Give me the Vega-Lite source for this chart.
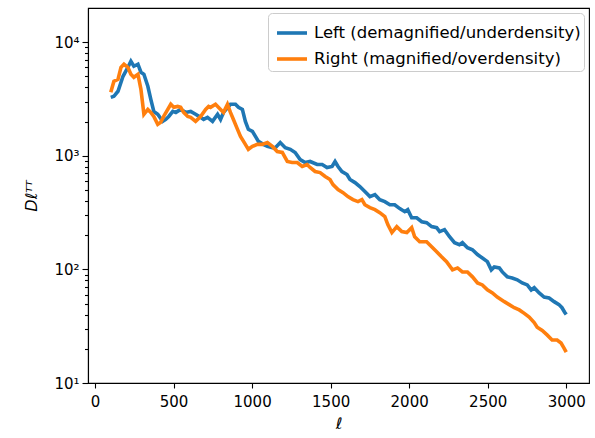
{
"$schema": "https://vega.github.io/schema/vega-lite/v6.json",
"width": 501, "height": 375,
"autosize": "none",
"padding": {"left": 88, "top": 8, "right": 6, "bottom": 55},
"background": "white",
"config": {
  "font": "DejaVu Sans",
  "view": {"stroke": "black", "strokeWidth": 1.1},
  "axis": {"domainColor": "black", "tickColor": "black", "domainWidth": 1.1, "tickWidth": 1.1, "labelColor": "black", "titleColor": "black", "labelFont": "DejaVu Sans", "titleFont": "DejaVu Sans", "grid": false, "labelFontSize": 15, "titleFontWeight": "normal"}
},
"data": {"values": [
{"l":100,"D":3270,"s":"Left (demagnified/underdensity)"},{"l":120,"D":3340,"s":"Left (demagnified/underdensity)"},{"l":146,"D":3700,"s":"Left (demagnified/underdensity)"},{"l":178,"D":5010,"s":"Left (demagnified/underdensity)"},{"l":203,"D":5780,"s":"Left (demagnified/underdensity)"},{"l":228,"D":6790,"s":"Left (demagnified/underdensity)"},{"l":247,"D":6140,"s":"Left (demagnified/underdensity)"},{"l":273,"D":6400,"s":"Left (demagnified/underdensity)"},{"l":292,"D":5440,"s":"Left (demagnified/underdensity)"},{"l":311,"D":5220,"s":"Left (demagnified/underdensity)"},{"l":336,"D":4090,"s":"Left (demagnified/underdensity)"},{"l":355,"D":3140,"s":"Left (demagnified/underdensity)"},{"l":374,"D":2460,"s":"Left (demagnified/underdensity)"},{"l":399,"D":2320,"s":"Left (demagnified/underdensity)"},{"l":431,"D":2010,"s":"Left (demagnified/underdensity)"},{"l":450,"D":2090,"s":"Left (demagnified/underdensity)"},{"l":469,"D":2220,"s":"Left (demagnified/underdensity)"},{"l":495,"D":2460,"s":"Left (demagnified/underdensity)"},{"l":514,"D":2410,"s":"Left (demagnified/underdensity)"},{"l":545,"D":2560,"s":"Left (demagnified/underdensity)"},{"l":577,"D":2410,"s":"Left (demagnified/underdensity)"},{"l":609,"D":2460,"s":"Left (demagnified/underdensity)"},{"l":640,"D":2320,"s":"Left (demagnified/underdensity)"},{"l":672,"D":2180,"s":"Left (demagnified/underdensity)"},{"l":691,"D":2090,"s":"Left (demagnified/underdensity)"},{"l":716,"D":2180,"s":"Left (demagnified/underdensity)"},{"l":748,"D":2010,"s":"Left (demagnified/underdensity)"},{"l":780,"D":2320,"s":"Left (demagnified/underdensity)"},{"l":799,"D":2090,"s":"Left (demagnified/underdensity)"},{"l":818,"D":2410,"s":"Left (demagnified/underdensity)"},{"l":862,"D":2840,"s":"Left (demagnified/underdensity)"},{"l":894,"D":2840,"s":"Left (demagnified/underdensity)"},{"l":913,"D":2670,"s":"Left (demagnified/underdensity)"},{"l":938,"D":2560,"s":"Left (demagnified/underdensity)"},{"l":957,"D":2010,"s":"Left (demagnified/underdensity)"},{"l":976,"D":1710,"s":"Left (demagnified/underdensity)"},{"l":1002,"D":1640,"s":"Left (demagnified/underdensity)"},{"l":1021,"D":1480,"s":"Left (demagnified/underdensity)"},{"l":1040,"D":1340,"s":"Left (demagnified/underdensity)"},{"l":1071,"D":1260,"s":"Left (demagnified/underdensity)"},{"l":1097,"D":1210,"s":"Left (demagnified/underdensity)"},{"l":1129,"D":1180,"s":"Left (demagnified/underdensity)"},{"l":1148,"D":1180,"s":"Left (demagnified/underdensity)"},{"l":1179,"D":1310,"s":"Left (demagnified/underdensity)"},{"l":1211,"D":1180,"s":"Left (demagnified/underdensity)"},{"l":1243,"D":1140,"s":"Left (demagnified/underdensity)"},{"l":1274,"D":1070,"s":"Left (demagnified/underdensity)"},{"l":1306,"D":927,"s":"Left (demagnified/underdensity)"},{"l":1338,"D":873,"s":"Left (demagnified/underdensity)"},{"l":1369,"D":891,"s":"Left (demagnified/underdensity)"},{"l":1414,"D":838,"s":"Left (demagnified/underdensity)"},{"l":1446,"D":838,"s":"Left (demagnified/underdensity)"},{"l":1477,"D":789,"s":"Left (demagnified/underdensity)"},{"l":1509,"D":805,"s":"Left (demagnified/underdensity)"},{"l":1528,"D":891,"s":"Left (demagnified/underdensity)"},{"l":1547,"D":805,"s":"Left (demagnified/underdensity)"},{"l":1572,"D":727,"s":"Left (demagnified/underdensity)"},{"l":1604,"D":684,"s":"Left (demagnified/underdensity)"},{"l":1623,"D":618,"s":"Left (demagnified/underdensity)"},{"l":1655,"D":581,"s":"Left (demagnified/underdensity)"},{"l":1686,"D":536,"s":"Left (demagnified/underdensity)"},{"l":1718,"D":484,"s":"Left (demagnified/underdensity)"},{"l":1750,"D":437,"s":"Left (demagnified/underdensity)"},{"l":1782,"D":455,"s":"Left (demagnified/underdensity)"},{"l":1813,"D":411,"s":"Left (demagnified/underdensity)"},{"l":1845,"D":395,"s":"Left (demagnified/underdensity)"},{"l":1877,"D":371,"s":"Left (demagnified/underdensity)"},{"l":1908,"D":371,"s":"Left (demagnified/underdensity)"},{"l":1940,"D":343,"s":"Left (demagnified/underdensity)"},{"l":1972,"D":322,"s":"Left (demagnified/underdensity)"},{"l":1991,"D":336,"s":"Left (demagnified/underdensity)"},{"l":2016,"D":285,"s":"Left (demagnified/underdensity)"},{"l":2048,"D":285,"s":"Left (demagnified/underdensity)"},{"l":2080,"D":263,"s":"Left (demagnified/underdensity)"},{"l":2111,"D":258,"s":"Left (demagnified/underdensity)"},{"l":2143,"D":238,"s":"Left (demagnified/underdensity)"},{"l":2175,"D":233,"s":"Left (demagnified/underdensity)"},{"l":2194,"D":215,"s":"Left (demagnified/underdensity)"},{"l":2225,"D":224,"s":"Left (demagnified/underdensity)"},{"l":2257,"D":194,"s":"Left (demagnified/underdensity)"},{"l":2289,"D":172,"s":"Left (demagnified/underdensity)"},{"l":2320,"D":165,"s":"Left (demagnified/underdensity)"},{"l":2339,"D":172,"s":"Left (demagnified/underdensity)"},{"l":2371,"D":155,"s":"Left (demagnified/underdensity)"},{"l":2403,"D":149,"s":"Left (demagnified/underdensity)"},{"l":2435,"D":135,"s":"Left (demagnified/underdensity)"},{"l":2466,"D":126,"s":"Left (demagnified/underdensity)"},{"l":2498,"D":117,"s":"Left (demagnified/underdensity)"},{"l":2523,"D":99,"s":"Left (demagnified/underdensity)"},{"l":2542,"D":105,"s":"Left (demagnified/underdensity)"},{"l":2574,"D":103,"s":"Left (demagnified/underdensity)"},{"l":2593,"D":95,"s":"Left (demagnified/underdensity)"},{"l":2625,"D":86,"s":"Left (demagnified/underdensity)"},{"l":2656,"D":84,"s":"Left (demagnified/underdensity)"},{"l":2688,"D":81,"s":"Left (demagnified/underdensity)"},{"l":2720,"D":76,"s":"Left (demagnified/underdensity)"},{"l":2752,"D":73,"s":"Left (demagnified/underdensity)"},{"l":2777,"D":66,"s":"Left (demagnified/underdensity)"},{"l":2796,"D":69,"s":"Left (demagnified/underdensity)"},{"l":2828,"D":62,"s":"Left (demagnified/underdensity)"},{"l":2859,"D":57,"s":"Left (demagnified/underdensity)"},{"l":2891,"D":56,"s":"Left (demagnified/underdensity)"},{"l":2923,"D":52,"s":"Left (demagnified/underdensity)"},{"l":2954,"D":49,"s":"Left (demagnified/underdensity)"},{"l":2973,"D":46,"s":"Left (demagnified/underdensity)"},{"l":2990,"D":42,"s":"Left (demagnified/underdensity)"},{"l":3000,"D":40,"s":"Left (demagnified/underdensity)"},
{"l":100,"D":3620,"s":"Right (magnified/overdensity)"},{"l":120,"D":4530,"s":"Right (magnified/overdensity)"},{"l":146,"D":4710,"s":"Right (magnified/overdensity)"},{"l":165,"D":6010,"s":"Right (magnified/overdensity)"},{"l":184,"D":6400,"s":"Right (magnified/overdensity)"},{"l":209,"D":6010,"s":"Right (magnified/overdensity)"},{"l":228,"D":5220,"s":"Right (magnified/overdensity)"},{"l":247,"D":4910,"s":"Right (magnified/overdensity)"},{"l":273,"D":5220,"s":"Right (magnified/overdensity)"},{"l":292,"D":3850,"s":"Right (magnified/overdensity)"},{"l":311,"D":2320,"s":"Right (magnified/overdensity)"},{"l":336,"D":2560,"s":"Right (magnified/overdensity)"},{"l":355,"D":2410,"s":"Right (magnified/overdensity)"},{"l":374,"D":2220,"s":"Right (magnified/overdensity)"},{"l":399,"D":1890,"s":"Right (magnified/overdensity)"},{"l":418,"D":1970,"s":"Right (magnified/overdensity)"},{"l":437,"D":2220,"s":"Right (magnified/overdensity)"},{"l":463,"D":2560,"s":"Right (magnified/overdensity)"},{"l":482,"D":2840,"s":"Right (magnified/overdensity)"},{"l":501,"D":2670,"s":"Right (magnified/overdensity)"},{"l":526,"D":2720,"s":"Right (magnified/overdensity)"},{"l":545,"D":2670,"s":"Right (magnified/overdensity)"},{"l":564,"D":2410,"s":"Right (magnified/overdensity)"},{"l":590,"D":2220,"s":"Right (magnified/overdensity)"},{"l":609,"D":2180,"s":"Right (magnified/overdensity)"},{"l":640,"D":2010,"s":"Right (magnified/overdensity)"},{"l":672,"D":2220,"s":"Right (magnified/overdensity)"},{"l":704,"D":2560,"s":"Right (magnified/overdensity)"},{"l":723,"D":2720,"s":"Right (magnified/overdensity)"},{"l":735,"D":2670,"s":"Right (magnified/overdensity)"},{"l":767,"D":2840,"s":"Right (magnified/overdensity)"},{"l":799,"D":2560,"s":"Right (magnified/overdensity)"},{"l":818,"D":2410,"s":"Right (magnified/overdensity)"},{"l":843,"D":2840,"s":"Right (magnified/overdensity)"},{"l":862,"D":2410,"s":"Right (magnified/overdensity)"},{"l":881,"D":2090,"s":"Right (magnified/overdensity)"},{"l":907,"D":1710,"s":"Right (magnified/overdensity)"},{"l":926,"D":1480,"s":"Right (magnified/overdensity)"},{"l":957,"D":1260,"s":"Right (magnified/overdensity)"},{"l":976,"D":1140,"s":"Right (magnified/overdensity)"},{"l":1002,"D":1210,"s":"Right (magnified/overdensity)"},{"l":1033,"D":1260,"s":"Right (magnified/overdensity)"},{"l":1065,"D":1260,"s":"Right (magnified/overdensity)"},{"l":1097,"D":1310,"s":"Right (magnified/overdensity)"},{"l":1129,"D":1210,"s":"Right (magnified/overdensity)"},{"l":1160,"D":1090,"s":"Right (magnified/overdensity)"},{"l":1192,"D":1070,"s":"Right (magnified/overdensity)"},{"l":1224,"D":891,"s":"Right (magnified/overdensity)"},{"l":1255,"D":873,"s":"Right (magnified/overdensity)"},{"l":1287,"D":873,"s":"Right (magnified/overdensity)"},{"l":1319,"D":805,"s":"Right (magnified/overdensity)"},{"l":1350,"D":838,"s":"Right (magnified/overdensity)"},{"l":1369,"D":789,"s":"Right (magnified/overdensity)"},{"l":1401,"D":727,"s":"Right (magnified/overdensity)"},{"l":1433,"D":712,"s":"Right (magnified/overdensity)"},{"l":1465,"D":657,"s":"Right (magnified/overdensity)"},{"l":1496,"D":618,"s":"Right (magnified/overdensity)"},{"l":1515,"D":558,"s":"Right (magnified/overdensity)"},{"l":1547,"D":504,"s":"Right (magnified/overdensity)"},{"l":1579,"D":474,"s":"Right (magnified/overdensity)"},{"l":1610,"D":437,"s":"Right (magnified/overdensity)"},{"l":1642,"D":411,"s":"Right (magnified/overdensity)"},{"l":1674,"D":395,"s":"Right (magnified/overdensity)"},{"l":1699,"D":411,"s":"Right (magnified/overdensity)"},{"l":1718,"D":371,"s":"Right (magnified/overdensity)"},{"l":1750,"D":350,"s":"Right (magnified/overdensity)"},{"l":1782,"D":336,"s":"Right (magnified/overdensity)"},{"l":1813,"D":316,"s":"Right (magnified/overdensity)"},{"l":1845,"D":291,"s":"Right (magnified/overdensity)"},{"l":1864,"D":248,"s":"Right (magnified/overdensity)"},{"l":1890,"D":211,"s":"Right (magnified/overdensity)"},{"l":1921,"D":238,"s":"Right (magnified/overdensity)"},{"l":1953,"D":215,"s":"Right (magnified/overdensity)"},{"l":1985,"D":211,"s":"Right (magnified/overdensity)"},{"l":2016,"D":233,"s":"Right (magnified/overdensity)"},{"l":2035,"D":194,"s":"Right (magnified/overdensity)"},{"l":2067,"D":175,"s":"Right (magnified/overdensity)"},{"l":2111,"D":175,"s":"Right (magnified/overdensity)"},{"l":2143,"D":158,"s":"Right (magnified/overdensity)"},{"l":2175,"D":143,"s":"Right (magnified/overdensity)"},{"l":2206,"D":129,"s":"Right (magnified/overdensity)"},{"l":2238,"D":117,"s":"Right (magnified/overdensity)"},{"l":2276,"D":99,"s":"Right (magnified/overdensity)"},{"l":2308,"D":103,"s":"Right (magnified/overdensity)"},{"l":2339,"D":95,"s":"Right (magnified/overdensity)"},{"l":2371,"D":95,"s":"Right (magnified/overdensity)"},{"l":2403,"D":86,"s":"Right (magnified/overdensity)"},{"l":2435,"D":76,"s":"Right (magnified/overdensity)"},{"l":2466,"D":73,"s":"Right (magnified/overdensity)"},{"l":2498,"D":66,"s":"Right (magnified/overdensity)"},{"l":2530,"D":62,"s":"Right (magnified/overdensity)"},{"l":2561,"D":57,"s":"Right (magnified/overdensity)"},{"l":2606,"D":52,"s":"Right (magnified/overdensity)"},{"l":2637,"D":49,"s":"Right (magnified/overdensity)"},{"l":2669,"D":46,"s":"Right (magnified/overdensity)"},{"l":2701,"D":44,"s":"Right (magnified/overdensity)"},{"l":2733,"D":41,"s":"Right (magnified/overdensity)"},{"l":2764,"D":38,"s":"Right (magnified/overdensity)"},{"l":2796,"D":34,"s":"Right (magnified/overdensity)"},{"l":2815,"D":31,"s":"Right (magnified/overdensity)"},{"l":2847,"D":29,"s":"Right (magnified/overdensity)"},{"l":2878,"D":26.5,"s":"Right (magnified/overdensity)"},{"l":2910,"D":23.9,"s":"Right (magnified/overdensity)"},{"l":2942,"D":23.9,"s":"Right (magnified/overdensity)"},{"l":2967,"D":22.5,"s":"Right (magnified/overdensity)"},{"l":2986,"D":20.3,"s":"Right (magnified/overdensity)"},{"l":3000,"D":18.7,"s":"Right (magnified/overdensity)"}
]},
"mark": {"type": "line", "strokeWidth": 3.6, "clip": true},
"encoding": {
  "x": {"field": "l", "type": "quantitative", "scale": {"domain": [-45, 3145], "nice": false, "zero": false}, "axis": {"values": [0,500,1000,1500,2000,2500,3000], "format": "d", "title": "ℓ", "titleFontSize": 16, "titleFontStyle": "italic", "tickSize": 5, "labelPadding": 6, "titlePadding": 6}},
  "y": {"field": "D", "type": "quantitative", "scale": {"type": "log", "domain": [10, 20000], "nice": false}, "axis": {"values": [10,20,30,40,50,60,70,80,90,100,200,300,400,500,600,700,800,900,1000,2000,3000,4000,5000,6000,7000,8000,9000,10000], "labelExpr": "datum.value == 10 ? '10¹' : datum.value == 100 ? '10²' : datum.value == 1000 ? '10³' : datum.value == 10000 ? '10⁴' : ''", "tickSize": {"condition": {"test": "datum.value == 10 || datum.value == 100 || datum.value == 1000 || datum.value == 10000", "value": 6}, "value": 3.5}, "title": "Dℓᵀᵀ", "titleFontSize": 16, "titleFontStyle": "italic", "labelPadding": 3, "titlePadding": 14, "labelOverlap": false}},
  "color": {"field": "s", "type": "nominal", "scale": {"domain": ["Left (demagnified/underdensity)", "Right (magnified/overdensity)"], "range": ["#1f77b4", "#ff7f0e"]}, "legend": {"title": null, "orient": "top-right", "offset": 5, "padding": 3, "strokeColor": "#cccccc", "fillColor": "white", "cornerRadius": 4, "symbolType": "stroke", "symbolSize": 900, "symbolOffset": 4, "symbolStrokeWidth": 3.6, "labelFontSize": 16.5, "labelOffset": 5, "labelLimit": 400, "rowPadding": -1, "labelColor": "black", "labelFont": "DejaVu Sans"}}
}
}
